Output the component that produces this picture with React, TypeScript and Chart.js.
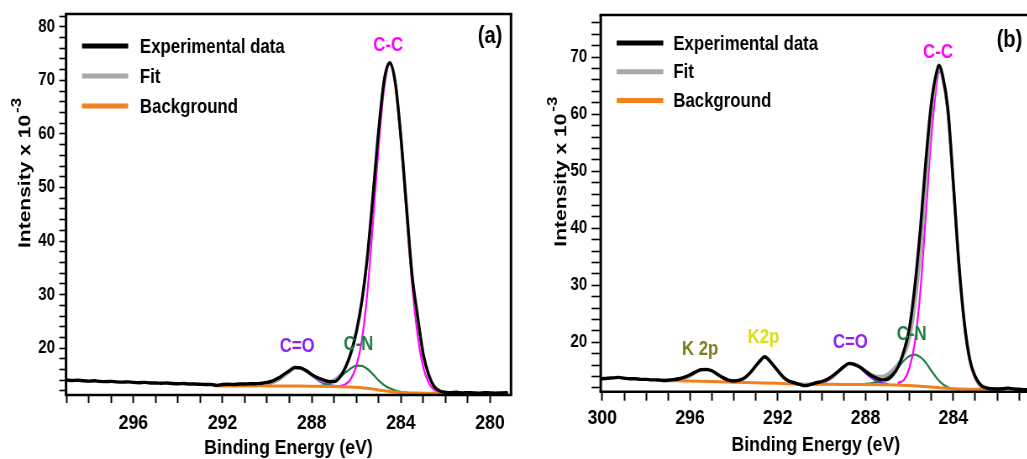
import React, { useEffect, useRef } from 'react';
import { Chart, registerables } from 'chart.js';

Chart.register(...registerables);

type Pt = [number, number | null];

// ---------------- Panel (a) data: [binding energy (eV), intensity x 10^-3] ----------------
const expA: Pt[] = [
  [299, 14.05], [298.75, 13.95], [298.5, 14.0], [298.25, 13.9], [298, 13.85], [297.75, 13.9], [297.5, 13.8],
  [297.25, 13.75], [297, 13.8], [296.75, 13.7], [296.5, 13.65], [296.25, 13.7], [296, 13.6], [295.75, 13.55],
  [295.5, 13.6], [295.25, 13.5], [295, 13.5], [294.75, 13.45], [294.5, 13.5], [294.25, 13.4], [294, 13.35],
  [293.75, 13.4], [293.5, 13.3], [293.25, 13.3], [293, 13.25], [292.75, 13.2], [292.5, 13.2], [292.25, 13.05],
  [292, 13.2], [291.75, 13.25], [291.5, 13.2], [291.25, 13.3], [291, 13.3], [290.75, 13.35], [290.5, 13.35],
  [290.25, 13.45], [290, 13.6], [289.75, 13.9], [289.5, 14.4], [289.25, 15.1], [289, 15.8], [288.75, 16.4],
  [288.5, 16.3], [288.25, 15.8], [288, 15.1], [287.75, 14.5], [287.5, 14.1], [287.25, 13.8], [287, 13.75],
  [286.75, 14.5], [286.5, 16.3], [286.25, 19.0], [286, 23.0], [285.75, 28.8], [285.5, 37.2], [285.25, 48.5],
  [285, 60.5], [284.75, 70.0], [284.5, 73.3], [284.25, 69.6], [284, 59.5], [283.75, 46.5], [283.5, 33.8],
  [283.25, 26.0], [283, 19.0], [282.75, 15.0], [282.5, 12.8], [282.25, 12.0], [282, 11.75], [281.75, 11.7],
  [281.5, 11.75], [281.25, 11.65], [281, 11.7], [280.75, 11.65], [280.5, 11.6], [280.25, 11.7], [280, 11.65],
  [279.75, 11.6], [279.5, 11.65], [279.25, 11.7],
];
const fitA: Pt[] = [
  [292.3, 13.0], [291, 13.0], [290.5, 13.0], [290, 13.25], [289.75, 13.55], [289.5, 14.05], [289.25, 14.75],
  [289, 15.55], [288.75, 16.25], [288.5, 16.3], [288.25, 15.75], [288, 15.0], [287.75, 14.3], [287.5, 13.85],
  [287.25, 13.75], [287, 14.1], [286.75, 14.9], [286.5, 16.2], [286.25, 18.7], [286, 22.7], [285.75, 28.5],
  [285.5, 36.9], [285.25, 48.2], [285, 60.2], [284.75, 69.8], [284.5, 73.2], [284.25, 69.4], [284, 59.3],
  [283.75, 46.3], [283.5, 33.6], [283.25, 25.6], [283, 18.7], [282.75, 14.8], [282.5, 12.7], [282.25, 11.95],
  [282, 11.7], [281, 11.55], [280.7, 11.55],
];
const bgA: Pt[] = [
  [292.3, 13.0], [292, 13.0], [291, 12.98], [290, 12.95], [289, 12.92], [288, 12.9], [287, 12.85], [286.5, 12.8],
  [286, 12.7], [285.75, 12.6], [285.5, 12.5], [285.25, 12.35], [285, 12.2], [284.75, 12.05], [284.5, 11.9],
  [284.25, 11.8], [284, 11.7], [283.5, 11.62], [283, 11.6], [282, 11.58], [281, 11.55], [280.7, 11.55],
];
const ccA: Pt[] = [
  [287, 12.85], [286.75, 12.9], [286.5, 13.2], [286.25, 14.2], [286, 16.6], [285.75, 21.5], [285.5, 30.5],
  [285.25, 43.5], [285, 57.5], [284.75, 68.5], [284.5, 73.0], [284.25, 69.2], [284, 58.5], [283.75, 45.0],
  [283.5, 32.0], [283.25, 22.5], [283, 16.5], [282.75, 13.5], [282.5, 12.2], [282.25, 11.8], [282, 11.65],
  [281.75, 11.6],
];
const cnA: Pt[] = [
  [287.75, 12.9], [287.5, 13.0], [287.25, 13.3], [287, 13.8], [286.75, 14.5], [286.5, 15.4], [286.25, 16.2],
  [286, 16.75], [285.75, 16.7], [285.5, 16.1], [285.25, 15.1], [285, 14.0], [284.75, 13.1], [284.5, 12.5],
  [284.25, 12.1], [284, 11.85], [283.75, 11.7],
];
const coA: Pt[] = [
  [290.5, 12.95], [290.25, 13.05], [290, 13.2], [289.75, 13.5], [289.5, 14.0], [289.25, 14.7], [289, 15.5],
  [288.75, 16.2], [288.5, 16.25], [288.25, 15.7], [288, 14.9], [287.75, 14.1], [287.5, 13.5], [287.25, 13.15],
  [287, 12.95], [286.75, 12.9],
];

// ---------------- Panel (b) data ----------------
const expB: Pt[] = [
  [300, 13.6], [299.75, 13.7], [299.5, 13.75], [299.25, 13.85], [299, 13.7], [298.75, 13.6], [298.5, 13.6],
  [298.25, 13.5], [298, 13.5], [297.75, 13.4], [297.5, 13.4], [297.25, 13.3], [297, 13.35], [296.75, 13.45],
  [296.5, 13.6], [296.25, 13.9], [296, 14.3], [295.75, 14.8], [295.5, 15.2], [295.25, 15.25], [295, 15.0],
  [294.75, 14.4], [294.5, 13.8], [294.25, 13.35], [294, 13.2], [293.75, 13.35], [293.5, 13.8], [293.25, 14.7],
  [293, 15.9], [292.75, 17.0], [292.6, 17.45], [292.5, 17.25], [292.25, 16.2], [292, 15.0], [291.75, 13.9],
  [291.5, 13.2], [291.25, 12.9], [291, 12.6], [290.75, 12.4], [290.5, 12.6], [290.25, 12.9], [290, 13.1],
  [289.75, 13.5], [289.5, 14.1], [289.25, 14.9], [289, 15.7], [288.75, 16.3], [288.5, 16.1], [288.25, 15.6],
  [288, 14.9], [287.75, 14.2], [287.5, 13.7], [287.25, 13.4], [287, 13.5], [286.75, 14.3], [286.5, 15.8],
  [286.25, 18.5], [286, 22.5], [285.75, 30.0], [285.5, 40.0], [285.25, 52.0], [285, 62.0], [284.75, 67.6],
  [284.65, 68.6], [284.5, 67.0], [284.25, 61.0], [284, 48.0], [283.75, 34.0], [283.5, 23.5], [283.25, 17.0],
  [283, 14.0], [282.75, 12.5], [282.5, 12.0], [282.25, 11.85], [282, 11.8], [281.75, 11.85], [281.5, 11.95],
  [281.25, 11.8], [281, 11.75], [280.75, 11.7], [280.5, 11.7],
];
const fitB: Pt[] = [
  [297.5, 13.35], [297, 13.3], [296.75, 13.35], [296.5, 13.5], [296.25, 13.75], [296, 14.15], [295.75, 14.7],
  [295.5, 15.15], [295.25, 15.2], [295, 14.95], [294.75, 14.35], [294.5, 13.75], [294.25, 13.3], [294, 13.1],
  [293.75, 13.3], [293.5, 13.75], [293.25, 14.65], [293, 15.85], [292.75, 17.0], [292.6, 17.4], [292.5, 17.2],
  [292.25, 16.2], [292, 15.0], [291.75, 13.9], [291.5, 13.2], [291.25, 12.85], [291, 12.7], [290.75, 12.65],
  [290.5, 12.65], [290.25, 12.75], [290, 12.95], [289.75, 13.35], [289.5, 13.95], [289.25, 14.8], [289, 15.65],
  [288.75, 16.25], [288.5, 16.2], [288.25, 15.7], [288, 15.0], [287.75, 14.35], [287.5, 14.0], [287.25, 14.0],
  [287, 14.4], [286.75, 15.2], [286.5, 16.3], [286.25, 17.8], [286, 20.5], [285.75, 26.5], [285.5, 35.5],
  [285.25, 47.5], [285, 60.2], [284.75, 67.0], [284.65, 68.0], [284.5, 66.5], [284.25, 60.5], [284, 47.6],
  [283.75, 33.8], [283.5, 23.3], [283.25, 16.8], [283, 13.8], [282.75, 12.4], [282.5, 11.95], [282, 11.78],
  [281.9, 11.75],
];
const bgB: Pt[] = [
  [297.5, 13.35], [297, 13.3], [296, 13.2], [295, 13.1], [294, 13.0], [293, 12.9], [292, 12.8], [291, 12.65],
  [290.75, null],
  [290.5, 12.65], [290, 12.65], [289, 12.6], [288, 12.6], [287, 12.55], [286.5, 12.5], [286, 12.4],
  [285.5, 12.3], [285, 12.15], [284.5, 12.0], [284, 11.85], [283.5, 11.8], [283, 11.75], [282, 11.75],
  [281.9, 11.75],
];
const ccB: Pt[] = [
  [286.5, 12.9], [286.25, 13.4], [286, 15.5], [285.75, 20.0], [285.5, 29.0], [285.25, 42.5], [285, 56.0],
  [284.75, 65.5], [284.65, 67.5], [284.5, 66.5], [284.25, 59.5], [284, 47.0], [283.75, 33.5], [283.5, 23.0],
  [283.25, 16.5], [283, 13.5], [282.75, 12.2], [282.5, 11.9],
];
const cnB: Pt[] = [
  [288, 12.7], [287.75, 12.8], [287.5, 13.0], [287.25, 13.35], [287, 13.9], [286.75, 14.7], [286.5, 15.7],
  [286.25, 16.8], [286, 17.6], [285.75, 17.85], [285.5, 17.4], [285.25, 16.4], [285, 15.0], [284.75, 13.7],
  [284.5, 12.7], [284.25, 12.1], [284, 11.85], [283.75, 11.75],
];
const coB: Pt[] = [
  [290.25, 12.6], [290, 12.8], [289.75, 13.2], [289.5, 13.8], [289.25, 14.7], [289, 15.6], [288.75, 16.2],
  [288.5, 16.1], [288.25, 15.5], [288, 14.6], [287.75, 13.8], [287.5, 13.2], [287.25, 12.85], [287, 12.7],
];
const k2pOliveB: Pt[] = [
  [296.75, 13.2], [296.5, 13.35], [296.25, 13.6], [296, 14.0], [295.75, 14.6], [295.5, 15.1], [295.25, 15.2],
  [295, 14.9], [294.75, 14.3], [294.5, 13.7], [294.25, 13.3], [294, 13.1],
];
const k2pYellowB: Pt[] = [
  [294, 13.0], [293.75, 13.2], [293.5, 13.7], [293.25, 14.6], [293, 15.8], [292.75, 17.0], [292.6, 17.4],
  [292.5, 17.2], [292.25, 16.2], [292, 15.0], [291.75, 13.9], [291.5, 13.2], [291.25, 12.8],
];

// Peak annotations (text, energy, intensity)
const peakLabelsA: [string, number, number][] = [
  ['C-C', 284.57, 76.6], ['C=O', 288.65, 20.4], ['C-N', 285.9, 20.75],
];
const peakLabelsB: [string, number, number][] = [
  ['C-C', 284.7, 70.84], ['C=O', 288.69, 19.96], ['C-N', 285.9, 21.3], ['K 2p', 295.54, 18.8], ['K2p', 292.65, 20.84],
];
const panelTagA: [string, number, number] = ['(a)', 280.0, 78.3];
const panelTagB: [string, number, number] = ['(b)', 281.44, 72.9];

const legendNames = ['Experimental data', 'Fit', 'Background'];
const xTitle = 'Binding Energy (eV)';
const yTitleMain = 'Intensity x 10';
const yTitleSup = '-3';

// ---------------- styles ----------------
const FONT = "'Liberation Sans', Arial, Helvetica, sans-serif";
const K = 0.84; // horizontal compression of the original figure
const COLORS: Record<string, string> = {
  'Experimental data': '#000000',
  Fit: '#a8a8a8',
  Background: '#f3801f',
  'C-C': '#ff00ff',
  'C-N': '#1e8040',
  'C=O': '#8a22f0',
  'K 2p': '#7d7d1e',
  K2p: '#dcdc1a',
};

const toXY = (a: Pt[]) => a.map(([x, y]) => ({ x, y }));

const decorPlugin = {
  id: 'decor',
  afterDraw(chart: any, _args: any, opts: any) {
    const { ctx, chartArea: ca, scales } = chart;
    const xs = scales.x;
    const ys = scales.y;
    ctx.save();
    // frame
    ctx.strokeStyle = '#000';
    ctx.lineWidth = 2.5;
    ctx.beginPath();
    ctx.moveTo(ca.left - 1.5, ca.top);
    ctx.lineTo(ca.right + 1.5, ca.top);
    ctx.moveTo(ca.left - 1.5, ca.bottom);
    ctx.lineTo(ca.right + 1.5, ca.bottom);
    ctx.stroke();
    ctx.lineWidth = 3;
    ctx.beginPath();
    ctx.moveTo(ca.left, ca.top);
    ctx.lineTo(ca.left, ca.bottom);
    ctx.moveTo(ca.right, ca.top);
    ctx.lineTo(ca.right, ca.bottom);
    ctx.stroke();

    // peak labels
    ctx.textAlign = 'center';
    ctx.textBaseline = 'middle';
    ctx.font = `bold 20px ${FONT}`;
    for (const [text, x, y] of opts.peaks as [string, number, number][]) {
      ctx.fillStyle = COLORS[text];
      ctx.fillText(text, xs.getPixelForValue(x), ys.getPixelForValue(y));
    }
    // panel tag
    const [tag, tx, ty] = opts.tag;
    ctx.fillStyle = '#000';
    ctx.font = `bold 24px ${FONT}`;
    ctx.fillText(tag, xs.getPixelForValue(tx), ys.getPixelForValue(ty));

    // legend
    const lg = opts.legend;
    legendNames.forEach((name, i) => {
      const y = ca.top + lg.dy0 + i * lg.spacing;
      ctx.strokeStyle = COLORS[name];
      ctx.lineWidth = 5;
      ctx.lineCap = 'butt';
      ctx.beginPath();
      ctx.moveTo(ca.left + lg.x1, y);
      ctx.lineTo(ca.left + lg.x2, y);
      ctx.stroke();
      ctx.fillStyle = '#000';
      ctx.font = `bold 20px ${FONT}`;
      ctx.textAlign = 'left';
      ctx.textBaseline = 'middle';
      ctx.fillText(name, ca.left + lg.tx, y + 1);
    });

    // rotated y title with superscript
    ctx.save();
    ctx.translate(opts.yTitleX, opts.yTitleBottom);
    ctx.rotate(-Math.PI / 2);
    ctx.fillStyle = '#000';
    ctx.textAlign = 'left';
    ctx.textBaseline = 'middle';
    ctx.font = `bold 21px ${FONT}`;
    ctx.fillText(yTitleMain, 0, 0);
    const w = ctx.measureText(yTitleMain).width;
    ctx.font = `bold 17px ${FONT}`;
    ctx.fillText(yTitleSup, w + 2, -10);
    ctx.restore();

    ctx.restore();
  },
};

type Series = { label: string; data: Pt[]; width: number };

function buildConfig(spec: any) {
  const datasets = (spec.series as Series[]).map((s) => ({
    label: s.label,
    data: toXY(s.data),
    borderColor: COLORS[s.label],
    backgroundColor: COLORS[s.label],
    borderWidth: s.width,
    pointRadius: 0,
    fill: false,
    spanGaps: false,
    cubicInterpolationMode: 'monotone',
    borderJoinStyle: 'round',
    borderCapStyle: 'round',
  }));
  const tickFontX = { family: FONT, size: 21, weight: 'bold', lineHeight: 1 };
  const tickFontY = { family: FONT, size: 18, weight: 'bold', lineHeight: 1 };
  return {
    type: 'line',
    data: { datasets },
    options: {
      animation: false,
      responsive: false,
      devicePixelRatio: 1,
      events: [],
      layout: { padding: { top: spec.padTop, right: spec.padRight, left: 0, bottom: 0 } },
      plugins: {
        legend: { display: false },
        tooltip: { enabled: false },
        decor: {
          peaks: spec.peaks,
          tag: spec.tag,
          legend: spec.legend,
          yTitleX: spec.yTitleX,
          yTitleBottom: spec.yTitleBottom,
        },
      },
      scales: {
        x: {
          type: 'linear',
          reverse: true,
          min: spec.xMin,
          max: spec.xMax,
          afterFit: (s: any) => {
            s.height = spec.xAxisH;
          },
          border: { display: false },
          grid: {
            display: true,
            drawOnChartArea: false,
            drawTicks: true,
            tickLength: spec.xTickLen,
            tickWidth: 2,
            tickColor: '#000',
          },
          ticks: {
            stepSize: 1,
            autoSkip: false,
            maxRotation: 0,
            minRotation: 0,
            includeBounds: false,
            padding: spec.xTickPad,
            color: '#000',
            font: tickFontX,
            callback: (v: number) => (Math.round(v) % 4 === 0 ? String(Math.round(v)) : ''),
          },
          title: {
            display: true,
            text: xTitle,
            color: '#000',
            font: { family: FONT, size: 21, weight: 'bold', lineHeight: 1 },
            padding: { top: 0, bottom: spec.xTitlePad },
          },
        },
        y: {
          type: 'linear',
          min: spec.yMin,
          max: spec.yMax,
          afterFit: (s: any) => {
            s.width = spec.yAxisW;
          },
          border: { display: false },
          grid: {
            display: true,
            drawOnChartArea: false,
            drawTicks: true,
            tickLength: spec.yTickLen,
            tickWidth: 1.6,
            tickColor: '#000',
          },
          ticks: {
            stepSize: 2,
            autoSkip: false,
            includeBounds: false,
            padding: spec.yTickPad,
            color: '#000',
            font: tickFontY,
            callback: (v: number) => (Math.round(v) % 10 === 0 ? String(Math.round(v)) : ''),
          },
        },
      },
    },
    plugins: [decorPlugin],
  };
}

const specA = {
  series: [
    { label: 'Experimental data', data: expA, width: 3.4 },
    { label: 'Background', data: bgA, width: 3 },
    { label: 'Fit', data: fitA, width: 3 },
    { label: 'C-C', data: ccA, width: 2.2 },
    { label: 'C-N', data: cnA, width: 2.2 },
    { label: 'C=O', data: coA, width: 2.2 },
  ],
  xMin: 279.06, xMax: 299.02, yMin: 11.25, yMax: 82.4,
  padTop: 13, padRight: 11.7, xAxisH: 64, yAxisW: 78.6,
  xTickLen: 8, xTickPad: 10, xTitlePad: 0,
  yTickLen: 8, yTickPad: 5,
  peaks: peakLabelsA, tag: panelTagA,
  legend: { x1: 19, x2: 74, tx: 88, dy0: 32, spacing: 30 },
  yTitleX: 30.7, yTitleBottom: 248,
};

const specB = {
  series: [
    { label: 'Experimental data', data: expB, width: 3.4 },
    { label: 'Background', data: bgB, width: 3 },
    { label: 'Fit', data: fitB, width: 3.5 },
    { label: 'C-C', data: ccB, width: 2.2 },
    { label: 'C-N', data: cnB, width: 2.2 },
    { label: 'C=O', data: coB, width: 2.2 },
    { label: 'K 2p', data: k2pOliveB, width: 2.2 },
    { label: 'K2p', data: k2pYellowB, width: 2.2 },
  ],
  xMin: 280.46, xMax: 300.07, yMin: 11.33, yMax: 77.4,
  padTop: 15, padRight: 16.7, xAxisH: 67.3, yAxisW: 96.1,
  xTickLen: 9, xTickPad: 7, xTitlePad: 3.5,
  yTickLen: 11, yTickPad: 5,
  peaks: peakLabelsB, tag: panelTagB,
  legend: { x1: 19, x2: 74.5, tx: 86.4, dy0: 28, spacing: 28.7 },
  yTitleX: 49.6, yTitleBottom: 246.7,
};

export default function App() {
  const refA = useRef<HTMLCanvasElement | null>(null);
  const refB = useRef<HTMLCanvasElement | null>(null);

  useEffect(() => {
    const a = new Chart(refA.current as HTMLCanvasElement, buildConfig(specA) as any);
    const b = new Chart(refB.current as HTMLCanvasElement, buildConfig(specB) as any);
    return () => {
      a.destroy();
      b.destroy();
    };
  }, []);

  const canvasStyle = (left: number): React.CSSProperties => ({
    position: 'absolute',
    left,
    top: 0,
    transform: `scaleX(${K})`,
    transformOrigin: '0 0',
  });

  return (
    <div
      style={{
        position: 'fixed',
        left: 0,
        top: 0,
        width: 1027,
        height: 459,
        overflow: 'hidden',
        background: '#ffffff',
      }}
    >
      <canvas ref={refA} width={620} height={459} style={canvasStyle(0)} />
      <canvas ref={refB} width={625} height={459} style={canvasStyle(520)} />
    </div>
  );
}
